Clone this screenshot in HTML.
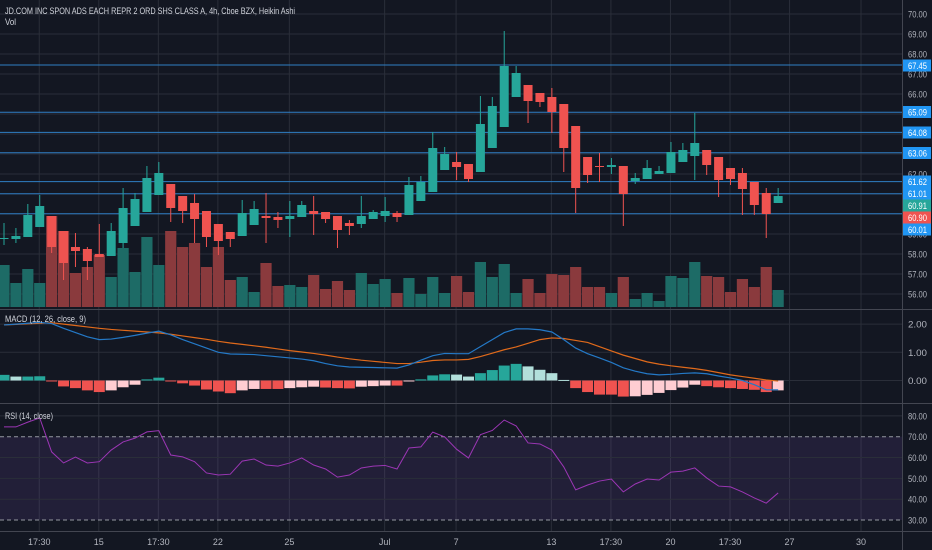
<!DOCTYPE html>
<html><head><meta charset="utf-8">
<style>
html,body{margin:0;padding:0;background:#131722;}
svg{display:block;font-family:"Liberation Sans",sans-serif;}
</style></head>
<body>
<svg id="chart" width="932" height="550" viewBox="0 0 932 550" xmlns="http://www.w3.org/2000/svg">
<rect x="0" y="0" width="932" height="550" fill="#131722"/>
<g id="grid"></g>
<g id="hlines"></g>
<g id="vol"></g>
<g id="candles"></g>
<g id="macd"></g>
<g id="rsi"></g>
<g id="axes"></g>
<text x="5" y="14" fill="#d1d4dc" font-size="9" textLength="290" lengthAdjust="spacingAndGlyphs">JD.COM INC SPON ADS EACH REPR 2 ORD SHS CLASS A, 4h, Cboe BZX, Heikin Ashi</text>
<text x="5" y="25" fill="#d1d4dc" font-size="9" textLength="11" lengthAdjust="spacingAndGlyphs">Vol</text>
<text x="5" y="322" fill="#d1d4dc" font-size="9" textLength="81" lengthAdjust="spacingAndGlyphs">MACD (12, 26, close, 9)</text>
<text x="5" y="419" fill="#d1d4dc" font-size="9" textLength="48" lengthAdjust="spacingAndGlyphs">RSI (14, close)</text>
</svg>
<script>
const opens  = [58.8,58.75,58.85,59.35,59.9,59.15,58.35,58.25,58.0,57.9,58.55,59.4,60.1,60.95,61.5,60.9,60.55,60.15,59.5,59.1,58.9,59.45,59.9,59.85,59.75,59.85,60.15,60.1,59.9,59.55,59.5,59.75,59.9,60.05,59.95,60.65,61.1,62.2,62.6,62.5,62.1,63.3,64.35,65.85,66.45,66.05,65.85,65.5,64.4,62.85,62.4,62.35,62.4,61.65,61.75,62.0,62.05,62.6,62.9,63.2,62.85,62.3,62.05,61.6,61.05,60.55];
const closes = [58.8,58.9,59.95,60.4,58.35,57.55,58.15,57.65,57.85,59.15,60.3,60.75,61.8,62.05,60.3,60.15,59.75,58.85,58.65,58.75,60.05,60.25,59.8,59.7,59.9,60.45,60.0,59.75,59.2,59.4,59.9,60.1,60.15,59.85,61.45,61.6,63.3,63.0,62.35,61.75,64.5,65.4,67.4,67.05,65.65,65.6,65.1,63.3,61.3,61.95,62.35,62.45,61.0,61.8,62.3,62.15,63.1,63.2,63.55,62.45,61.7,61.75,61.25,60.45,60.0,60.9];
const highs  = [59.55,59.3,60.5,60.95,59.9,59.15,59.05,58.35,59.5,59.55,61.3,61.05,62.4,62.6,61.5,60.9,61.0,60.15,59.5,59.1,60.7,60.65,61.05,60.1,60.65,60.65,60.9,60.1,59.9,59.7,60.9,60.2,60.85,60.15,61.85,61.9,64.1,63.35,63.1,62.5,65.9,65.85,69.15,67.4,66.45,66.05,66.3,65.5,64.4,62.85,63.05,62.8,62.4,62.05,62.7,62.4,63.6,63.55,65.05,63.2,62.85,62.3,62.3,61.6,61.3,61.3];
const lows   = [58.45,58.55,58.85,59.35,58.05,56.7,57.35,56.7,57.85,57.9,58.3,59.4,60.1,60.95,59.6,59.55,58.55,58.35,57.95,58.35,58.9,59.45,58.55,59.3,58.85,59.85,58.95,59.55,58.3,58.95,59.3,59.75,59.6,59.6,59.95,60.65,61.1,62.2,61.7,61.6,62.1,63.3,64.35,65.85,64.55,65.35,64.05,62.1,60.05,61.55,61.6,62.0,59.4,61.5,61.75,62.0,62.05,62.6,61.7,61.95,60.85,61.45,59.95,59.95,58.8,60.55];
const volumes = [42,24,38,24,91,76,34,40,52,30,59,35,70,42,76,60,64,40,60,27,30,15,44,21,22,20,32,18,26,17,34,23,28,14,29,13,30,14,31,15,45,30,43,14,28,14,33,32,40,20,20,14,30,8,14,6,31,29,45,31,30,15,28,20,40,17];
const macdLine = [1.97,2.0,2.03,2.06,2.02,1.85,1.7,1.55,1.45,1.47,1.53,1.6,1.68,1.75,1.62,1.45,1.3,1.15,1.0,0.94,0.93,0.92,0.88,0.84,0.8,0.76,0.7,0.6,0.52,0.48,0.47,0.46,0.45,0.44,0.55,0.72,0.88,0.96,0.95,0.95,1.2,1.45,1.7,1.83,1.83,1.8,1.72,1.45,1.15,0.95,0.8,0.64,0.45,0.33,0.24,0.2,0.22,0.25,0.27,0.24,0.16,0.09,0.0,-0.15,-0.33,-0.33];
const signalLine = [1.97,1.99,2.01,2.03,2.05,2.0,1.95,1.9,1.85,1.81,1.78,1.75,1.72,1.69,1.64,1.58,1.52,1.46,1.39,1.33,1.28,1.23,1.18,1.12,1.06,1.01,0.96,0.9,0.83,0.77,0.72,0.68,0.64,0.6,0.6,0.65,0.71,0.73,0.73,0.75,0.85,0.97,1.09,1.19,1.32,1.45,1.51,1.49,1.42,1.35,1.2,1.05,0.9,0.78,0.66,0.58,0.52,0.47,0.42,0.36,0.28,0.2,0.14,0.08,0.02,-0.02];
const histValues = [0.2,0.14,0.14,0.15,-0.02,-0.21,-0.27,-0.35,-0.41,-0.35,-0.24,-0.15,0.04,0.1,-0.03,-0.1,-0.18,-0.32,-0.39,-0.45,-0.35,-0.3,-0.3,-0.3,-0.27,-0.24,-0.22,-0.25,-0.27,-0.28,-0.22,-0.2,-0.18,-0.18,-0.02,0.04,0.18,0.22,0.21,0.14,0.26,0.37,0.53,0.59,0.5,0.38,0.26,0.02,-0.27,-0.41,-0.5,-0.5,-0.57,-0.56,-0.51,-0.44,-0.34,-0.25,-0.15,-0.2,-0.24,-0.27,-0.3,-0.33,-0.41,-0.35];
const rsiValues = [74.7,74.7,77,79,62.7,57.4,60.2,57.4,58,63.6,67.5,69.3,72.3,72.9,61.2,60.3,58,52.6,51.6,52,58.3,59.3,56.4,55.9,57.4,59.8,56.4,54.5,50.6,51.6,55,55.9,56.2,54.5,64.6,65.1,72.2,69.9,64,59.8,71,73,78,75.2,67,66.5,63.6,55.5,44.5,46.8,48.7,49.7,43.5,47.3,49.7,49.2,53,53.5,55,50.2,46.3,45.9,43.5,40.6,38.1,43];
const levelPrices = [67.45,65.09,64.08,63.06,61.62,61.01,60.01];
const priceTicks = [70,69,68,67,66,65,64,63,62,61,60,59,58,57,56];
const macdTicks = [2,1,0];
const rsiTicks = [80,70,60,50,40,30];
const timeLabels = ["17:30","15","17:30","22","25","Jul","7","13","17:30","20","17:30","27","30"];
const timeSlots = [3,8,13,18,24,32,38,46,51,56,61,66,72];

const NS="http://www.w3.org/2000/svg";
const PLOT_W=902;
function xOf(i){return 4+i*11.91;}
function yPrice(p){return 14+(70-p)*20;}
function yVol(v){return 307-v;}
function yMacd(v){return 380.5-v*28.2;}
function yRsi(v){return 436.7+(70-v)*2.083;}
function mk(tag,attrs,parent){const e=document.createElementNS(NS,tag);for(const k in attrs)e.setAttribute(k,attrs[k]);parent.appendChild(e);return e;}
const G=id=>document.getElementById(id);

const grid=G('grid');
timeSlots.forEach((s,i)=>{
  const gl=mk('line',{x1:xOf(s)-0.5,x2:xOf(s)-0.5,y1:0,y2:531,stroke:'#2a2e39','stroke-width':1},grid);
  
  
});
priceTicks.forEach(p=>{
  const gl=mk('line',{x1:0,x2:PLOT_W,y1:yPrice(p),y2:yPrice(p),stroke:'#2a2e39','stroke-width':1},grid);
  
  
});
macdTicks.forEach(v=>{
  const gl=mk('line',{x1:0,x2:PLOT_W,y1:yMacd(v),y2:yMacd(v),stroke:'#2a2e39','stroke-width':1},grid);
  
  
});
const band=mk('rect',{x:0,y:yRsi(70),width:PLOT_W,height:yRsi(30)-yRsi(70),fill:'rgba(126,87,194,0.14)'},grid);


rsiTicks.forEach(v=>{
  const dashed=(v===70||v===30);
  const gl=mk('line',{x1:0,x2:PLOT_W,y1:yRsi(v),y2:yRsi(v),stroke:dashed?'#9598a1':'#2a2e39','stroke-width':1,'stroke-dasharray':dashed?'4 3':'none'},grid);
  
  
});

const hl=G('hlines');
levelPrices.forEach(p=>{
  const l=mk('line',{x1:0,x2:PLOT_W,y1:yPrice(p),y2:yPrice(p),stroke:'#2f7fc4','stroke-width':1},hl);
  
  
});

const vg=G('vol');
volumes.forEach((v,i)=>{
  const up=closes[i]>=opens[i];
  const r=mk('rect',{x:xOf(i)-5.6,y:yVol(v),width:11.2,height:v,fill:up?'#1d6b66':'#8a3a3d'},vg);
  
  
});

const cg=G('candles');
opens.forEach((o,i)=>{
  const c=closes[i],up=c>=o,col=up?'#26a69a':'#ef5350',x=xOf(i);
  const w=mk('line',{x1:x,x2:x,y1:yPrice(highs[i]),y2:yPrice(lows[i]),stroke:col,'stroke-width':1},cg);
  
  
  const top=yPrice(Math.max(o,c)),bot=yPrice(Math.min(o,c));
  const b=mk('rect',{x:x-4.5,y:top,width:9,height:Math.max(1,bot-top),fill:col},cg);
  
  
});

const mg=G('macd');
histValues.forEach((v,i)=>{
  const prev=i>0?histValues[i-1]:v;
  let col;
  if(v>=0) col=(v>=prev)?'#26a69a':'#b2dfdb'; else col=(v<=prev)?'#ef5350':'#ffcdd2';
  const y0=yMacd(0),y1=yMacd(v);
  const r=mk('rect',{x:xOf(i)-5.5,y:Math.min(y0,y1),width:11,height:Math.max(1,Math.abs(y1-y0)),fill:col},mg);
  
  
});
const sl=mk('polyline',{points:signalLine.map((v,i)=>xOf(i)+','+yMacd(v)).join(' '),fill:'none',stroke:'#e06a1b','stroke-width':1.2},mg);


const ml=mk('polyline',{points:macdLine.map((v,i)=>xOf(i)+','+yMacd(v)).join(' '),fill:'none',stroke:'#2479c7','stroke-width':1.2},mg);



const rg=G('rsi');
const rl=mk('polyline',{points:rsiValues.map((v,i)=>xOf(i)+','+yRsi(v)).join(' '),fill:'none',stroke:'#9c36b5','stroke-width':1},rg);



const ax=G('axes');
[[0,309.5,932,309.5],[0,403.5,932,403.5],[0,531.5,932,531.5],[902.5,0,902.5,550]].forEach(s=>{
  const l=mk('line',{x1:s[0],y1:s[1],x2:s[2],y2:s[3],stroke:'#434651','stroke-width':1},ax);
  
  
});
function axText(txt,y,name){
  const t=mk('text',{x:908,y:y+3.5,fill:'#b2b5be','font-size':9,textLength:19,lengthAdjust:'spacingAndGlyphs'},ax);
  t.textContent=txt;
  
  
}
priceTicks.forEach(p=>axText(p.toFixed(2),yPrice(p),'price-tick-label'));
macdTicks.forEach(v=>axText(v.toFixed(2),yMacd(v),'macd-tick-label'));
rsiTicks.forEach(v=>axText(v.toFixed(2),yRsi(v),'rsi-tick-label'));
const badges=[["67.45",65.5,'#2196f3'],["65.09",112,'#2196f3'],["64.08",132.5,'#2196f3'],["63.06",153,'#2196f3'],["61.62",181.5,'#2196f3'],["61.01",193.5,'#2196f3'],["60.91",205.5,'#26a69a'],["60.90",217.5,'#ef5350'],["60.01",229.5,'#2196f3']];
badges.forEach(b=>{
  const r=mk('rect',{x:903,y:b[1]-6,width:28,height:12,fill:b[2]},ax);
  
  
  const t=mk('text',{x:908,y:b[1]+3.5,fill:'#ffffff','font-size':9,textLength:19,lengthAdjust:'spacingAndGlyphs'},ax);
  t.textContent=b[0];
  
  
});
timeLabels.forEach((s,i)=>{
  const t=mk('text',{x:xOf(timeSlots[i])-0.5,y:545,fill:'#b2b5be','font-size':9,'text-anchor':'middle'},ax);
  t.textContent=s;
  
  
});
</script>
</body></html>
